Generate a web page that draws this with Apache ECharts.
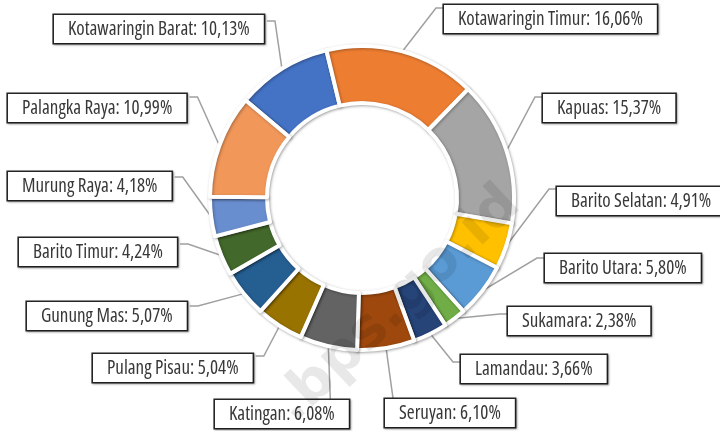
<!DOCTYPE html>
<html><head><meta charset="utf-8">
<script src="https://cdn.jsdelivr.net/npm/echarts@6/dist/echarts.min.js"></script>
<style>html,body{margin:0;padding:0;background:#fff}#c{width:720px;height:431px}</style>
</head><body><div id="c"></div>
<script>
const categories = ['Kotawaringin Barat','Kotawaringin Timur','Kapuas','Barito Selatan','Barito Utara','Sukamara','Lamandau','Seruyan','Katingan','Pulang Pisau','Gunung Mas','Barito Timur','Murung Raya','Palangka Raya'];
const shares = [10.13,16.06,15.37,4.91,5.80,2.38,3.66,6.10,6.08,5.04,5.07,4.24,4.18,10.99];
const colors = ['#4472C4','#ED7D31','#A5A5A5','#FFC000','#5B9BD5','#70AD47','#264478','#9E480E','#636363','#997300','#255E91','#43682B','#698ED0','#F1975A'];
// label box layout (top-left corner) and the side where the leader line attaches
const labelBoxes = [
  {x:54, y:15, side:'r', dy:6},
  {x:444, y:5, side:'l', dy:3},
  {x:543, y:94, side:'l', dy:3},
  {x:557, y:187, side:'l', dy:2},
  {x:545, y:254, side:'l', dy:4},
  {x:508, y:307, side:'l', dy:7},
  {x:461, y:355, side:'l', dy:7},
  {x:385, y:399, side:'t', dx:7},
  {x:215, y:400, side:'t', dx:2},
  {x:93, y:354, side:'r', dy:2},
  {x:27, y:302, side:'r', dy:4},
  {x:19, y:238, side:'r', dy:6},
  {x:8, y:172, side:'r', dy:5},
  {x:8, y:94, side:'r', dy:3}
];

const chart = echarts.init(document.getElementById('c'), null, {renderer:'canvas'});
const data = categories.map((n,i)=>({name:n, value:shares[i], itemStyle:{color:colors[i]}}));
chart.setOption({
  backgroundColor:'#ffffff',
  animation:false,
  graphic:[{
    type:'text', x:398, y:305, rotation:0.76, z:100, silent:true,
    style:{text:'.bps.go.id', font:'bold 56px "DejaVu Sans", sans-serif', fill:'rgba(0,0,0,0.09)', textAlign:'center', textVerticalAlign:'middle'}
  }],
  series:[{
    type:'pie',
    center:[362,198],
    radius:[95,152],
    startAngle:140,
    clockwise:true,
    avoidLabelOverlap:false,
    minShowLabelAngle:0,
    emphasis:{disabled:true},
    itemStyle:{borderColor:'#ffffff', borderWidth:4, shadowBlur:3, shadowColor:'rgba(0,0,0,0.3)', shadowOffsetX:1, shadowOffsetY:1},
    label:{
      show:true, position:'outside',
      formatter:p=>p.name+': '+p.value.toFixed(2).replace('.',',')+'%',
      color:'#383838', fontStyle:'normal', fontWeight:'500 condensed', fontFamily:"'Open Sans'",
      fontSize:19, lineHeight:21, padding:[4,14,3,14],
      backgroundColor:'#ffffff', borderColor:'#262626', borderWidth:1.6,
      shadowColor:'rgba(0,0,0,0.3)', shadowBlur:2, shadowOffsetX:1, shadowOffsetY:1
    },
    labelLine:{show:true, length:10, length2:10, smooth:false, lineStyle:{color:'#a0a0a0', width:1.5}},
    labelLayout:function(p){
      const b = labelBoxes[p.dataIndex];
      const w = p.labelRect.width;
      const a = p.labelLinePoints[0];
      let pts;
      if (b.side==='r'){ const ay=b.y+b.dy, ex=b.x+w; pts=[a,[ex+8,ay],[ex,ay]]; }
      else if (b.side==='l'){ const ay=b.y+b.dy; pts=[a,[b.x-8,ay],[b.x,ay]]; }
      else { pts=[a,[a[0]+b.dx,b.y]]; }
      return {x:b.x, y:b.y, align:'left', verticalAlign:'top', labelLinePoints:pts, hideOverlap:false, moveOverlap:null};
    },
    data:data
  }]
});
</script></body></html>
